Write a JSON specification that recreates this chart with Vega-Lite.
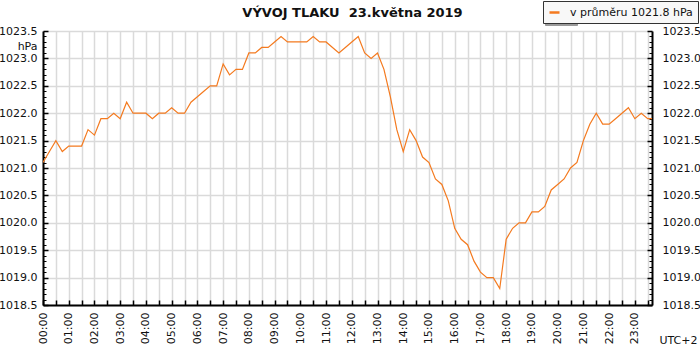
{
  "$schema": "https://vega.github.io/schema/vega-lite/v6.json",
  "width": 609,
  "height": 274,
  "autosize": {"type": "none"},
  "padding": {"left": 43, "top": 31, "right": 48, "bottom": 45},
  "background": "white",
  "title": {"text": "VÝVOJ TLAKU\u00a0 23.května 2019", "font": "DejaVu Sans", "fontSize": 13, "fontWeight": "bold", "color": "#111111", "anchor": "middle", "offset": -19, "dx": 5},
  "config": {
    "font": "DejaVu Sans",
    "view": {"stroke": null},
    "axis": {"labelFont": "DejaVu Sans", "titleFont": "DejaVu Sans", "labelFontSize": 11, "labelColor": "#111111", "titleColor": "#111111", "tickColor": "#000000", "domainColor": "#000000", "gridColor": "#dadada", "gridWidth": 1.5}
  },
  "datasets": {
    "p": [
      {"m": 0, "p": 1021.1}, {"m": 15, "p": 1021.3}, {"m": 30, "p": 1021.5}, {"m": 45, "p": 1021.3},
      {"m": 60, "p": 1021.4}, {"m": 75, "p": 1021.4}, {"m": 90, "p": 1021.4}, {"m": 105, "p": 1021.7},
      {"m": 120, "p": 1021.6}, {"m": 135, "p": 1021.9}, {"m": 150, "p": 1021.9}, {"m": 165, "p": 1022.0},
      {"m": 180, "p": 1021.9}, {"m": 195, "p": 1022.2}, {"m": 210, "p": 1022.0}, {"m": 225, "p": 1022.0},
      {"m": 240, "p": 1022.0}, {"m": 255, "p": 1021.9}, {"m": 270, "p": 1022.0}, {"m": 285, "p": 1022.0},
      {"m": 300, "p": 1022.1}, {"m": 315, "p": 1022.0}, {"m": 330, "p": 1022.0}, {"m": 345, "p": 1022.2},
      {"m": 360, "p": 1022.3}, {"m": 375, "p": 1022.4}, {"m": 390, "p": 1022.5}, {"m": 405, "p": 1022.5},
      {"m": 420, "p": 1022.9}, {"m": 435, "p": 1022.7}, {"m": 450, "p": 1022.8}, {"m": 465, "p": 1022.8},
      {"m": 480, "p": 1023.1}, {"m": 495, "p": 1023.1}, {"m": 510, "p": 1023.2}, {"m": 525, "p": 1023.2},
      {"m": 540, "p": 1023.3}, {"m": 555, "p": 1023.4}, {"m": 570, "p": 1023.3}, {"m": 585, "p": 1023.3},
      {"m": 600, "p": 1023.3}, {"m": 615, "p": 1023.3}, {"m": 630, "p": 1023.4}, {"m": 645, "p": 1023.3},
      {"m": 660, "p": 1023.3}, {"m": 675, "p": 1023.2}, {"m": 690, "p": 1023.1}, {"m": 705, "p": 1023.2},
      {"m": 720, "p": 1023.3}, {"m": 735, "p": 1023.4}, {"m": 750, "p": 1023.1}, {"m": 765, "p": 1023.0},
      {"m": 780, "p": 1023.1}, {"m": 795, "p": 1022.8}, {"m": 810, "p": 1022.3}, {"m": 825, "p": 1021.7},
      {"m": 840, "p": 1021.3}, {"m": 855, "p": 1021.7}, {"m": 870, "p": 1021.5}, {"m": 885, "p": 1021.2},
      {"m": 900, "p": 1021.1}, {"m": 915, "p": 1020.8}, {"m": 930, "p": 1020.7}, {"m": 945, "p": 1020.4},
      {"m": 960, "p": 1019.9}, {"m": 975, "p": 1019.7}, {"m": 990, "p": 1019.6}, {"m": 1005, "p": 1019.3},
      {"m": 1020, "p": 1019.1}, {"m": 1035, "p": 1019.0}, {"m": 1050, "p": 1019.0}, {"m": 1065, "p": 1018.8},
      {"m": 1080, "p": 1019.7}, {"m": 1095, "p": 1019.9}, {"m": 1110, "p": 1020.0}, {"m": 1125, "p": 1020.0},
      {"m": 1140, "p": 1020.2}, {"m": 1155, "p": 1020.2}, {"m": 1170, "p": 1020.3}, {"m": 1185, "p": 1020.6},
      {"m": 1200, "p": 1020.7}, {"m": 1215, "p": 1020.8}, {"m": 1230, "p": 1021.0}, {"m": 1245, "p": 1021.1},
      {"m": 1260, "p": 1021.5}, {"m": 1275, "p": 1021.8}, {"m": 1290, "p": 1022.0}, {"m": 1305, "p": 1021.8},
      {"m": 1320, "p": 1021.8}, {"m": 1335, "p": 1021.9}, {"m": 1350, "p": 1022.0}, {"m": 1365, "p": 1022.1},
      {"m": 1380, "p": 1021.9}, {"m": 1395, "p": 1022.0}, {"m": 1410, "p": 1021.9}, {"m": 1420, "p": 1021.9}
    ]
  },
  "data": {"name": "p"},
  "resolve": {"scale": {"y": "independent", "color": "independent"}, "axis": {"y": "independent"}, "legend": {"color": "independent"}},
  "layer": [
    {
      "mark": {"type": "line", "opacity": 0},
      "encoding": {
        "x": {"field": "m", "type": "quantitative", "scale": {"domain": [0, 1420], "nice": false, "zero": false}},
        "y": {
          "field": "p", "type": "quantitative",
          "scale": {"domain": [1018.5, 1023.5], "nice": false, "zero": false},
          "axis": null
        },
        "color": {
          "datum": "shadow", "type": "nominal",
          "scale": {"range": ["#999999"]},
          "legend": {
            "orient": "none", "legendX": 502, "legendY": -28, "title": null,
            "labelExpr": "'\u00a0\u00a0\u00a0\u00a0\u00a0\u00a0\u00a0\u00a0\u00a0\u00a0\u00a0\u00a0\u00a0\u00a0\u00a0\u00a0\u00a0\u00a0\u00a0\u00a0\u00a0\u00a0\u00a0\u00a0\u00a0\u00a0\u00a0\u00a0\u00a0\u00a0\u00a0\u00a0\u00a0\u00a0\u00a0'",
            "symbolType": "stroke", "symbolSize": 100, "symbolStrokeWidth": 2.5, "symbolOpacity": 0,
            "labelFont": "DejaVu Sans", "labelFontSize": 11, "labelOpacity": 0, "labelOffset": 9,
            "padding": 5, "strokeColor": "#9a9a9a", "fillColor": "#9a9a9a", "cornerRadius": 0
          }
        }
      }
    },
    {
      "mark": {"type": "line", "strokeWidth": 1.2, "clip": true},
      "encoding": {
        "x": {
          "field": "m", "type": "quantitative",
          "scale": {"domain": [0, 1420], "nice": false, "zero": false},
          "axis": {
            "values": [0,30,60,90,120,150,180,210,240,270,300,330,360,390,420,450,480,510,540,570,600,630,660,690,720,750,780,810,840,870,900,930,960,990,1020,1050,1080,1110,1140,1170,1200,1230,1260,1290,1320,1350,1380,1410],
            "tickCount": 200,
            "labelExpr": "datum.value % 60 == 0 ? (floor(datum.value / 60) < 10 ? '0' : '') + floor(datum.value / 60) + ':00' : ''",
            "labelAngle": -90, "labelOverlap": false, "labelBound": false, "labelFlush": false,
            "labelPadding": 12, "grid": true, "tickSize": -5, "tickWidth": 1.5,
            "domainWidth": 2,
            "title": "UTC+2", "titleX": 654, "titleY": 35, "titleAlign": "right", "titleBaseline": "middle",
            "titleFontWeight": "normal", "titleFontSize": 11
          }
        },
        "y": {
          "field": "p", "type": "quantitative",
          "scale": {"domain": [1018.5, 1023.5], "nice": false, "zero": false},
          "axis": {
            "orient": "left",
            "values": [1018.5,1019,1019.5,1020,1020.5,1021,1021.5,1022,1022.5,1023,1023.5],
            "tickCount": 200,
            "format": ".1f", "grid": true, "tickSize": -5, "tickWidth": 1.5, "domainWidth": 2,
            "labelPadding": 11, "labelBound": false, "labelFlush": false, "labelOverlap": false,
            "title": "hPa", "titleAngle": 0, "titleAlign": "right", "titleBaseline": "middle",
            "titleX": -6, "titleY": 15, "titleFontWeight": "normal", "titleFontSize": 11
          }
        },
        "color": {
          "datum": "v průměru 1021.8 hPa", "type": "nominal",
          "scale": {"range": ["#f47a1f"]},
          "legend": {
            "orient": "none", "legendX": 500, "legendY": -30, "title": null,
            "symbolType": "stroke", "symbolSize": 100, "symbolStrokeWidth": 2.5,
            "labelFont": "DejaVu Sans", "labelFontSize": 11, "labelColor": "#111111", "labelOffset": 9,
            "padding": 5, "strokeColor": "#333333", "fillColor": "#f8f8f8", "cornerRadius": 0
          }
        }
      }
    },
    {
      "mark": {"type": "line", "opacity": 0},
      "encoding": {
        "x": {"field": "m", "type": "quantitative", "scale": {"domain": [0, 1420], "nice": false, "zero": false}},
        "y": {
          "field": "p", "type": "quantitative",
          "scale": {"domain": [1018.5, 1023.5], "nice": false, "zero": false},
          "axis": {
            "orient": "right",
            "values": [1018.5,1019,1019.5,1020,1020.5,1021,1021.5,1022,1022.5,1023,1023.5],
            "tickCount": 200,
            "format": ".1f", "grid": false, "tickSize": -5, "tickWidth": 1.5, "domainWidth": 2,
            "labelPadding": 15, "labelBound": false, "labelFlush": false, "labelOverlap": false,
            "title": null
          }
        }
      }
    },
    {
      "mark": {"type": "line", "opacity": 0},
      "encoding": {
        "x": {"field": "m", "type": "quantitative", "scale": {"domain": [0, 1420], "nice": false, "zero": false}},
        "y": {
          "field": "p", "type": "quantitative",
          "scale": {"domain": [1018.5, 1023.5], "nice": false, "zero": false},
          "axis": {
            "orient": "left",
            "values": [1018.6,1018.7,1018.8,1018.9,1019.1,1019.2,1019.3,1019.4,1019.6,1019.7,1019.8,1019.9,1020.1,1020.2,1020.3,1020.4,1020.6,1020.7,1020.8,1020.9,1021.1,1021.2,1021.3,1021.4,1021.6,1021.7,1021.8,1021.9,1022.1,1022.2,1022.3,1022.4,1022.6,1022.7,1022.8,1022.9,1023.1,1023.2,1023.3,1023.4],
            "tickCount": 200,
            "labels": false, "grid": false, "domain": false, "tickSize": -3, "tickWidth": 1, "title": null
          }
        }
      }
    },
    {
      "mark": {"type": "line", "opacity": 0},
      "encoding": {
        "x": {"field": "m", "type": "quantitative", "scale": {"domain": [0, 1420], "nice": false, "zero": false}},
        "y": {
          "field": "p", "type": "quantitative",
          "scale": {"domain": [1018.5, 1023.5], "nice": false, "zero": false},
          "axis": {
            "orient": "right",
            "values": [1018.6,1018.7,1018.8,1018.9,1019.1,1019.2,1019.3,1019.4,1019.6,1019.7,1019.8,1019.9,1020.1,1020.2,1020.3,1020.4,1020.6,1020.7,1020.8,1020.9,1021.1,1021.2,1021.3,1021.4,1021.6,1021.7,1021.8,1021.9,1022.1,1022.2,1022.3,1022.4,1022.6,1022.7,1022.8,1022.9,1023.1,1023.2,1023.3,1023.4],
            "tickCount": 200,
            "labels": false, "grid": false, "domain": false, "tickSize": -3, "tickWidth": 1, "title": null
          }
        }
      }
    }
  ]
}
